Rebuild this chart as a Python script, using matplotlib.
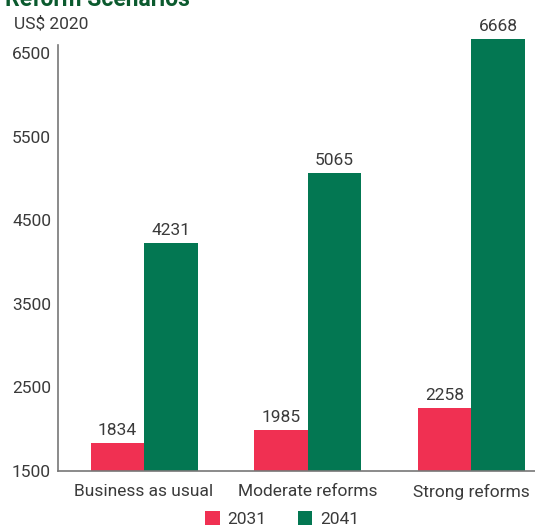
import numpy as np
import matplotlib
matplotlib.use("Agg")
import matplotlib.pyplot as plt

plt.rcParams["font.family"] = ["Roboto", "DejaVu Sans"]

scenarios = ["Business as usual", "Moderate reforms", "Strong reforms"]
years = ["2031", "2041"]
vals_2031 = [1834, 1985, 2258]
vals_2041 = [4231, 5065, 6668]
yticks = [1500, 2500, 3500, 4500, 5500, 6500]

pink = "#F03052"
green = "#037752"
text_c = "#3a3a3a"

fig = plt.figure(figsize=(5.35, 5.26), dpi=100)
ax = fig.add_axes([58 / 535, 1 - 471 / 526, 1 - 58 / 535, (471 - 45) / 526])

x = np.arange(len(scenarios))
w = 0.327
b1 = ax.bar(x - w / 2, np.array(vals_2031) - 1500, w, bottom=1500, color=pink,
            label=years[0], clip_on=False)
b2 = ax.bar(x + w / 2, np.array(vals_2041) - 1500, w, bottom=1500, color=green,
            label=years[1], clip_on=False)
for bars, vals in ((b1, vals_2031), (b2, vals_2041)):
    for r, v in zip(bars, vals):
        ax.text(r.get_x() + r.get_width() / 2, v + 60, f"{v}", ha="center",
                va="bottom", fontsize=12.5, color=text_c)

ax.set_xlim(-0.526, 2.39)
ax.set_ylim(1500, 6596)
ax.set_yticks(yticks)
ax.set_xticks(x)
ax.set_xticklabels(scenarios)
ax.tick_params(axis="both", length=0, labelsize=12.5, labelcolor=text_c)
ax.tick_params(axis="y", pad=5)
ax.tick_params(axis="x", pad=9)
for s in ("top", "right"):
    ax.spines[s].set_visible(False)
for s in ("left", "bottom"):
    ax.spines[s].set_color("#777777")
    ax.spines[s].set_linewidth(1.2)

fig.text(14 / 535, 1 - 29 / 526, "US$ 2020", fontsize=12.5, color=text_c, va="baseline")
fig.text(5 / 535, 1 - 6 / 526, "Reform Scenarios", fontsize=16.5, fontweight="bold",
         color="#0B5A2E", va="baseline")

fig.legend(handles=[b1, b2], labels=years, loc="lower center", ncol=2,
           bbox_to_anchor=(0.527, -0.032), frameon=False, fontsize=12.5,
           handlelength=0.85, handleheight=0.85, columnspacing=1.8,
           handletextpad=0.45, labelcolor=text_c)

fig.savefig("out.png", dpi=100)
